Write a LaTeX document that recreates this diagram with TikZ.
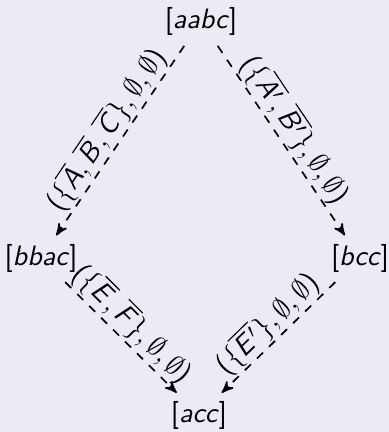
\documentclass[tikz,border=0pt]{standalone}
\usetikzlibrary{arrows}
\DeclareMathAlphabet{\mathsfit}{OT1}{cmss}{m}{sl}
\newcommand{\sv}[1]{\overline{\mathsfit{#1}}}
\newcommand{\st}[1]{\textsf{[\textsl{#1}]}}
\definecolor{slidebg}{RGB}{235,235,245}
\tikzset{>=stealth',
    state/.style={inner sep=2pt},
    trans/.style={->, dashed, semithick, shorten <=2pt, shorten >=1pt},
    lbl/.style={sloped, above, midway, inner sep=0.5pt}}

\begin{document}
\begin{tikzpicture}[x=0.01252cm, y=-0.01252cm]
    \useasboundingbox (0,0) rectangle (389,432);
    \fill[slidebg] (0,0) rectangle (389,432);

    \node[state] (aabc) at (201,21) {\st{aabc}};
    \node[state] (bbac) at (41,258) {\st{bbac}};
    \node[state] (bcc)  at (360,258) {\st{bcc}};
    \node[state] (acc)  at (199,415) {\st{acc}};

    \draw[trans] (aabc) -- node[lbl]
        {\textsf{(}$\{\sv{A},\sv{B},\sv{C}\},\emptyset,\emptyset$\textsf{)}} (bbac);
    \draw[trans] (aabc) -- node[lbl]
        {\textsf{(}$\{\sv{A'},\sv{B'}\},\emptyset,\emptyset$\textsf{)}} (bcc);
    \draw[trans] (bbac) -- node[lbl]
        {\textsf{(}$\{\sv{E},\sv{F}\},\emptyset,\emptyset$\textsf{)}} (acc);
    \draw[trans] (bcc) -- node[lbl]
        {\textsf{(}$\{\sv{E'}\},\emptyset,\emptyset$\textsf{)}} (acc);
\end{tikzpicture}
\end{document}
